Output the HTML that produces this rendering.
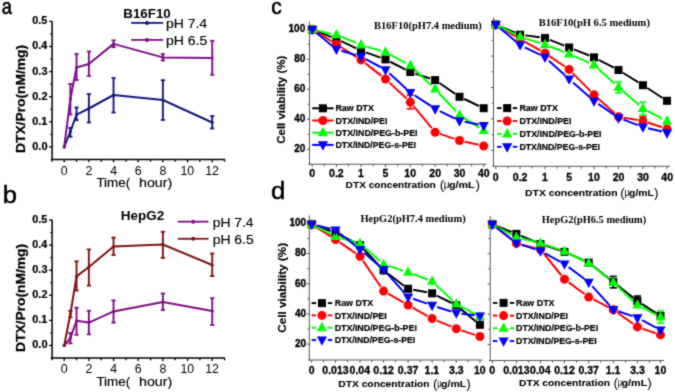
<!DOCTYPE html>
<html><head><meta charset="utf-8"><style>
html,body{margin:0;padding:0;background:#fff;}
svg{display:block;}
</style></head><body>
<svg width="675" height="392" viewBox="0 0 675 392">
<defs><filter id="soft" filterUnits="userSpaceOnUse" x="0" y="0" width="675" height="392" color-interpolation-filters="sRGB"><feConvolveMatrix order="3" kernelMatrix="1 2 1 2 14 2 1 2 1" divisor="26" edgeMode="duplicate"/></filter></defs>
<g filter="url(#soft)">
<rect width="675" height="392" fill="#fff"/>
<text x="1.87" y="13.9" font-family='"Liberation Sans", sans-serif' font-weight="normal" font-size="21.5" textLength="10.15" lengthAdjust="spacingAndGlyphs" fill="#000" stroke="#000" stroke-width="0.6">a</text>
<text x="2.74" y="202.8" font-family='"Liberation Sans", sans-serif' font-weight="normal" font-size="23" textLength="14.21" lengthAdjust="spacingAndGlyphs" fill="#000" stroke="#000" stroke-width="0.5">b</text>
<text x="271.16" y="14.2" font-family='"Liberation Sans", sans-serif' font-weight="normal" font-size="21.5" textLength="10.46" lengthAdjust="spacingAndGlyphs" fill="#000" stroke="#000" stroke-width="0.6">c</text>
<text x="271.07" y="198.9" font-family='"Liberation Sans", sans-serif' font-weight="normal" font-size="23" textLength="14.34" lengthAdjust="spacingAndGlyphs" fill="#000" stroke="#000" stroke-width="0.5">d</text>
<line x1="52.1" y1="21.2" x2="52.1" y2="160.15" stroke="#000" stroke-width="1.5"/>
<line x1="50.9" y1="159.45" x2="225.06" y2="159.45" stroke="#000" stroke-width="1.5"/>
<line x1="49.1" y1="146.9" x2="52.1" y2="146.9" stroke="#000" stroke-width="1.3"/>
<line x1="49.1" y1="121.8" x2="52.1" y2="121.8" stroke="#000" stroke-width="1.3"/>
<line x1="49.1" y1="96.7" x2="52.1" y2="96.7" stroke="#000" stroke-width="1.3"/>
<line x1="49.1" y1="71.6" x2="52.1" y2="71.6" stroke="#000" stroke-width="1.3"/>
<line x1="49.1" y1="46.5" x2="52.1" y2="46.5" stroke="#000" stroke-width="1.3"/>
<line x1="49.1" y1="21.4" x2="52.1" y2="21.4" stroke="#000" stroke-width="1.3"/>
<line x1="50.3" y1="134.35" x2="52.1" y2="134.35" stroke="#000" stroke-width="1.2"/>
<line x1="50.3" y1="109.25" x2="52.1" y2="109.25" stroke="#000" stroke-width="1.2"/>
<line x1="50.3" y1="84.15" x2="52.1" y2="84.15" stroke="#000" stroke-width="1.2"/>
<line x1="50.3" y1="59.05" x2="52.1" y2="59.05" stroke="#000" stroke-width="1.2"/>
<line x1="50.3" y1="33.95" x2="52.1" y2="33.95" stroke="#000" stroke-width="1.2"/>
<text x="32.26" y="149.8" font-family='"Liberation Sans", sans-serif' font-weight="bold" font-size="10" textLength="15.28" lengthAdjust="spacingAndGlyphs" fill="#000" stroke="#000" stroke-width="0.2">0.0</text>
<text x="32.27" y="124.7" font-family='"Liberation Sans", sans-serif' font-weight="bold" font-size="10" textLength="15.11" lengthAdjust="spacingAndGlyphs" fill="#000" stroke="#000" stroke-width="0.2">0.1</text>
<text x="32.26" y="99.6" font-family='"Liberation Sans", sans-serif' font-weight="bold" font-size="10" textLength="15.28" lengthAdjust="spacingAndGlyphs" fill="#000" stroke="#000" stroke-width="0.2">0.2</text>
<text x="32.26" y="74.5" font-family='"Liberation Sans", sans-serif' font-weight="bold" font-size="10" textLength="15.22" lengthAdjust="spacingAndGlyphs" fill="#000" stroke="#000" stroke-width="0.2">0.3</text>
<text x="32.27" y="49.4" font-family='"Liberation Sans", sans-serif' font-weight="bold" font-size="10" textLength="14.88" lengthAdjust="spacingAndGlyphs" fill="#000" stroke="#000" stroke-width="0.2">0.4</text>
<text x="32.27" y="24.3" font-family='"Liberation Sans", sans-serif' font-weight="bold" font-size="10" textLength="15.11" lengthAdjust="spacingAndGlyphs" fill="#000" stroke="#000" stroke-width="0.2">0.5</text>
<line x1="51.87" y1="159.45" x2="51.87" y2="161.75" stroke="#000" stroke-width="1.3"/>
<line x1="64.2" y1="159.45" x2="64.2" y2="162.35" stroke="#000" stroke-width="1.3"/>
<line x1="76.53" y1="159.45" x2="76.53" y2="161.75" stroke="#000" stroke-width="1.3"/>
<line x1="88.87" y1="159.45" x2="88.87" y2="162.35" stroke="#000" stroke-width="1.3"/>
<line x1="101.21" y1="159.45" x2="101.21" y2="161.75" stroke="#000" stroke-width="1.3"/>
<line x1="113.54" y1="159.45" x2="113.54" y2="162.35" stroke="#000" stroke-width="1.3"/>
<line x1="125.88" y1="159.45" x2="125.88" y2="161.75" stroke="#000" stroke-width="1.3"/>
<line x1="138.21" y1="159.45" x2="138.21" y2="162.35" stroke="#000" stroke-width="1.3"/>
<line x1="150.55" y1="159.45" x2="150.55" y2="161.75" stroke="#000" stroke-width="1.3"/>
<line x1="162.88" y1="159.45" x2="162.88" y2="162.35" stroke="#000" stroke-width="1.3"/>
<line x1="175.22" y1="159.45" x2="175.22" y2="161.75" stroke="#000" stroke-width="1.3"/>
<line x1="187.55" y1="159.45" x2="187.55" y2="162.35" stroke="#000" stroke-width="1.3"/>
<line x1="199.88" y1="159.45" x2="199.88" y2="161.75" stroke="#000" stroke-width="1.3"/>
<line x1="212.22" y1="159.45" x2="212.22" y2="162.35" stroke="#000" stroke-width="1.3"/>
<line x1="224.56" y1="159.45" x2="224.56" y2="161.75" stroke="#000" stroke-width="1.3"/>
<text x="60.73" y="174.65" font-family='"Liberation Sans", sans-serif' font-weight="normal" font-size="12.4" textLength="6.9" lengthAdjust="spacingAndGlyphs" fill="#000">0</text>
<text x="85.43" y="174.65" font-family='"Liberation Sans", sans-serif' font-weight="normal" font-size="12.4" textLength="6.9" lengthAdjust="spacingAndGlyphs" fill="#000">2</text>
<text x="110.16" y="174.65" font-family='"Liberation Sans", sans-serif' font-weight="normal" font-size="12.4" textLength="6.9" lengthAdjust="spacingAndGlyphs" fill="#000">4</text>
<text x="134.71" y="174.65" font-family='"Liberation Sans", sans-serif' font-weight="normal" font-size="12.4" textLength="6.9" lengthAdjust="spacingAndGlyphs" fill="#000">6</text>
<text x="159.41" y="174.65" font-family='"Liberation Sans", sans-serif' font-weight="normal" font-size="12.4" textLength="6.9" lengthAdjust="spacingAndGlyphs" fill="#000">8</text>
<text x="180.42" y="174.65" font-family='"Liberation Sans", sans-serif' font-weight="normal" font-size="12.4" textLength="13.79" lengthAdjust="spacingAndGlyphs" fill="#000">10</text>
<text x="205.18" y="174.65" font-family='"Liberation Sans", sans-serif' font-weight="normal" font-size="12.4" textLength="13.79" lengthAdjust="spacingAndGlyphs" fill="#000">12</text>
<text x="96.43" y="187.4" font-family='"Liberation Sans", sans-serif' font-weight="normal" font-size="13.3" textLength="33.68" lengthAdjust="spacingAndGlyphs" fill="#000" stroke="#000" stroke-width="0.15">Time(</text>
<text x="139" y="187.4" font-family='"Liberation Sans", sans-serif' font-weight="normal" font-size="13.3" textLength="33.22" lengthAdjust="spacingAndGlyphs" fill="#000" stroke="#000" stroke-width="0.15">hour)</text>
<text transform="rotate(-90)" x="-153" y="24.6" font-family='"Liberation Sans", sans-serif' font-weight="bold" font-size="13.4" textLength="108.16" lengthAdjust="spacingAndGlyphs" fill="#000" stroke="#000" stroke-width="0.25">DTX/Pro(nM/mg)</text>
<text x="123.33" y="17.9" font-family='"Liberation Sans", sans-serif' font-weight="bold" font-size="12.5" textLength="47.44" lengthAdjust="spacingAndGlyphs" fill="#000">B16F10</text>
<line x1="131.1" y1="22.9" x2="163" y2="22.9" stroke="#16167f" stroke-width="1.8"/>
<circle cx="147.05" cy="22.9" r="2.0" fill="#16167f"/>
<text x="165.99" y="28.1" font-family='"Liberation Sans", sans-serif' font-weight="normal" font-size="12.8" textLength="41.15" lengthAdjust="spacingAndGlyphs" fill="#000" stroke="#000" stroke-width="0.15">pH 7.4</text>
<line x1="131.1" y1="39.9" x2="163" y2="39.9" stroke="#7e0e88" stroke-width="1.8"/>
<circle cx="147.05" cy="39.9" r="2.0" fill="#7e0e88"/>
<text x="165.99" y="45.2" font-family='"Liberation Sans", sans-serif' font-weight="normal" font-size="12.8" textLength="41.29" lengthAdjust="spacingAndGlyphs" fill="#000" stroke="#000" stroke-width="0.15">pH 6.5</text>
<polyline points="64.2,146.9 70.37,131.5 76.53,114.6 88.87,108.5 113.54,95 162.88,100 212.22,122.5" fill="none" stroke="#16167f" stroke-width="2" stroke-linejoin="round"/>
<circle cx="64.2" cy="146.9" r="1.5" fill="#16167f"/>
<line x1="70.37" y1="127.9" x2="70.37" y2="136.8" stroke="#16167f" stroke-width="1.9"/>
<line x1="68.27" y1="127.9" x2="72.47" y2="127.9" stroke="#16167f" stroke-width="1.8"/>
<line x1="68.27" y1="136.8" x2="72.47" y2="136.8" stroke="#16167f" stroke-width="1.8"/>
<circle cx="70.37" cy="131.5" r="1.5" fill="#16167f"/>
<line x1="76.53" y1="107.5" x2="76.53" y2="120.2" stroke="#16167f" stroke-width="1.9"/>
<line x1="74.44" y1="107.5" x2="78.63" y2="107.5" stroke="#16167f" stroke-width="1.8"/>
<line x1="74.44" y1="120.2" x2="78.63" y2="120.2" stroke="#16167f" stroke-width="1.8"/>
<circle cx="76.53" cy="114.6" r="1.5" fill="#16167f"/>
<line x1="88.87" y1="94" x2="88.87" y2="122.5" stroke="#16167f" stroke-width="1.9"/>
<line x1="86.77" y1="94" x2="90.97" y2="94" stroke="#16167f" stroke-width="1.8"/>
<line x1="86.77" y1="122.5" x2="90.97" y2="122.5" stroke="#16167f" stroke-width="1.8"/>
<circle cx="88.87" cy="108.5" r="1.5" fill="#16167f"/>
<line x1="113.54" y1="78" x2="113.54" y2="112.5" stroke="#16167f" stroke-width="1.9"/>
<line x1="111.44" y1="78" x2="115.64" y2="78" stroke="#16167f" stroke-width="1.8"/>
<line x1="111.44" y1="112.5" x2="115.64" y2="112.5" stroke="#16167f" stroke-width="1.8"/>
<circle cx="113.54" cy="95" r="1.5" fill="#16167f"/>
<line x1="162.88" y1="80.2" x2="162.88" y2="120" stroke="#16167f" stroke-width="1.9"/>
<line x1="160.78" y1="80.2" x2="164.98" y2="80.2" stroke="#16167f" stroke-width="1.8"/>
<line x1="160.78" y1="120" x2="164.98" y2="120" stroke="#16167f" stroke-width="1.8"/>
<circle cx="162.88" cy="100" r="1.5" fill="#16167f"/>
<line x1="212.22" y1="116" x2="212.22" y2="128.5" stroke="#16167f" stroke-width="1.9"/>
<line x1="210.12" y1="116" x2="214.32" y2="116" stroke="#16167f" stroke-width="1.8"/>
<line x1="210.12" y1="128.5" x2="214.32" y2="128.5" stroke="#16167f" stroke-width="1.8"/>
<circle cx="212.22" cy="122.5" r="1.5" fill="#16167f"/>
<polyline points="64.2,146.9 70.37,99 76.53,67.5 88.87,64 113.54,43.9 162.88,57.4 212.22,57.9" fill="none" stroke="#7e0e88" stroke-width="2" stroke-linejoin="round"/>
<circle cx="64.2" cy="146.9" r="1.5" fill="#7e0e88"/>
<line x1="70.37" y1="84" x2="70.37" y2="114.6" stroke="#7e0e88" stroke-width="1.9"/>
<line x1="68.27" y1="84" x2="72.47" y2="84" stroke="#7e0e88" stroke-width="1.8"/>
<line x1="68.27" y1="114.6" x2="72.47" y2="114.6" stroke="#7e0e88" stroke-width="1.8"/>
<circle cx="70.37" cy="99" r="1.5" fill="#7e0e88"/>
<line x1="76.53" y1="54" x2="76.53" y2="80" stroke="#7e0e88" stroke-width="1.9"/>
<line x1="74.44" y1="54" x2="78.63" y2="54" stroke="#7e0e88" stroke-width="1.8"/>
<line x1="74.44" y1="80" x2="78.63" y2="80" stroke="#7e0e88" stroke-width="1.8"/>
<circle cx="76.53" cy="67.5" r="1.5" fill="#7e0e88"/>
<line x1="88.87" y1="51.5" x2="88.87" y2="76" stroke="#7e0e88" stroke-width="1.9"/>
<line x1="86.77" y1="51.5" x2="90.97" y2="51.5" stroke="#7e0e88" stroke-width="1.8"/>
<line x1="86.77" y1="76" x2="90.97" y2="76" stroke="#7e0e88" stroke-width="1.8"/>
<circle cx="88.87" cy="64" r="1.5" fill="#7e0e88"/>
<line x1="113.54" y1="40.3" x2="113.54" y2="47.2" stroke="#7e0e88" stroke-width="1.9"/>
<line x1="111.44" y1="40.3" x2="115.64" y2="40.3" stroke="#7e0e88" stroke-width="1.8"/>
<line x1="111.44" y1="47.2" x2="115.64" y2="47.2" stroke="#7e0e88" stroke-width="1.8"/>
<circle cx="113.54" cy="43.9" r="1.5" fill="#7e0e88"/>
<line x1="162.88" y1="54.1" x2="162.88" y2="60.5" stroke="#7e0e88" stroke-width="1.9"/>
<line x1="160.78" y1="54.1" x2="164.98" y2="54.1" stroke="#7e0e88" stroke-width="1.8"/>
<line x1="160.78" y1="60.5" x2="164.98" y2="60.5" stroke="#7e0e88" stroke-width="1.8"/>
<circle cx="162.88" cy="57.4" r="1.5" fill="#7e0e88"/>
<line x1="212.22" y1="40.8" x2="212.22" y2="74.8" stroke="#7e0e88" stroke-width="1.9"/>
<line x1="210.12" y1="40.8" x2="214.32" y2="40.8" stroke="#7e0e88" stroke-width="1.8"/>
<line x1="210.12" y1="74.8" x2="214.32" y2="74.8" stroke="#7e0e88" stroke-width="1.8"/>
<circle cx="212.22" cy="57.9" r="1.5" fill="#7e0e88"/>
<line x1="52.1" y1="219.8" x2="52.1" y2="358.75" stroke="#000" stroke-width="1.5"/>
<line x1="50.9" y1="358.05" x2="225.06" y2="358.05" stroke="#000" stroke-width="1.5"/>
<line x1="49.1" y1="345.5" x2="52.1" y2="345.5" stroke="#000" stroke-width="1.3"/>
<line x1="49.1" y1="320.4" x2="52.1" y2="320.4" stroke="#000" stroke-width="1.3"/>
<line x1="49.1" y1="295.3" x2="52.1" y2="295.3" stroke="#000" stroke-width="1.3"/>
<line x1="49.1" y1="270.2" x2="52.1" y2="270.2" stroke="#000" stroke-width="1.3"/>
<line x1="49.1" y1="245.1" x2="52.1" y2="245.1" stroke="#000" stroke-width="1.3"/>
<line x1="49.1" y1="220" x2="52.1" y2="220" stroke="#000" stroke-width="1.3"/>
<line x1="50.3" y1="332.95" x2="52.1" y2="332.95" stroke="#000" stroke-width="1.2"/>
<line x1="50.3" y1="307.85" x2="52.1" y2="307.85" stroke="#000" stroke-width="1.2"/>
<line x1="50.3" y1="282.75" x2="52.1" y2="282.75" stroke="#000" stroke-width="1.2"/>
<line x1="50.3" y1="257.65" x2="52.1" y2="257.65" stroke="#000" stroke-width="1.2"/>
<line x1="50.3" y1="232.55" x2="52.1" y2="232.55" stroke="#000" stroke-width="1.2"/>
<text x="32.26" y="348.4" font-family='"Liberation Sans", sans-serif' font-weight="bold" font-size="10" textLength="15.28" lengthAdjust="spacingAndGlyphs" fill="#000" stroke="#000" stroke-width="0.2">0.0</text>
<text x="32.27" y="323.3" font-family='"Liberation Sans", sans-serif' font-weight="bold" font-size="10" textLength="15.11" lengthAdjust="spacingAndGlyphs" fill="#000" stroke="#000" stroke-width="0.2">0.1</text>
<text x="32.26" y="298.2" font-family='"Liberation Sans", sans-serif' font-weight="bold" font-size="10" textLength="15.28" lengthAdjust="spacingAndGlyphs" fill="#000" stroke="#000" stroke-width="0.2">0.2</text>
<text x="32.26" y="273.1" font-family='"Liberation Sans", sans-serif' font-weight="bold" font-size="10" textLength="15.22" lengthAdjust="spacingAndGlyphs" fill="#000" stroke="#000" stroke-width="0.2">0.3</text>
<text x="32.27" y="248" font-family='"Liberation Sans", sans-serif' font-weight="bold" font-size="10" textLength="14.88" lengthAdjust="spacingAndGlyphs" fill="#000" stroke="#000" stroke-width="0.2">0.4</text>
<text x="32.27" y="222.9" font-family='"Liberation Sans", sans-serif' font-weight="bold" font-size="10" textLength="15.11" lengthAdjust="spacingAndGlyphs" fill="#000" stroke="#000" stroke-width="0.2">0.5</text>
<line x1="51.87" y1="358.05" x2="51.87" y2="360.35" stroke="#000" stroke-width="1.3"/>
<line x1="64.2" y1="358.05" x2="64.2" y2="360.95" stroke="#000" stroke-width="1.3"/>
<line x1="76.53" y1="358.05" x2="76.53" y2="360.35" stroke="#000" stroke-width="1.3"/>
<line x1="88.87" y1="358.05" x2="88.87" y2="360.95" stroke="#000" stroke-width="1.3"/>
<line x1="101.21" y1="358.05" x2="101.21" y2="360.35" stroke="#000" stroke-width="1.3"/>
<line x1="113.54" y1="358.05" x2="113.54" y2="360.95" stroke="#000" stroke-width="1.3"/>
<line x1="125.88" y1="358.05" x2="125.88" y2="360.35" stroke="#000" stroke-width="1.3"/>
<line x1="138.21" y1="358.05" x2="138.21" y2="360.95" stroke="#000" stroke-width="1.3"/>
<line x1="150.55" y1="358.05" x2="150.55" y2="360.35" stroke="#000" stroke-width="1.3"/>
<line x1="162.88" y1="358.05" x2="162.88" y2="360.95" stroke="#000" stroke-width="1.3"/>
<line x1="175.22" y1="358.05" x2="175.22" y2="360.35" stroke="#000" stroke-width="1.3"/>
<line x1="187.55" y1="358.05" x2="187.55" y2="360.95" stroke="#000" stroke-width="1.3"/>
<line x1="199.88" y1="358.05" x2="199.88" y2="360.35" stroke="#000" stroke-width="1.3"/>
<line x1="212.22" y1="358.05" x2="212.22" y2="360.95" stroke="#000" stroke-width="1.3"/>
<line x1="224.56" y1="358.05" x2="224.56" y2="360.35" stroke="#000" stroke-width="1.3"/>
<text x="60.73" y="373.25" font-family='"Liberation Sans", sans-serif' font-weight="normal" font-size="12.4" textLength="6.9" lengthAdjust="spacingAndGlyphs" fill="#000">0</text>
<text x="85.43" y="373.25" font-family='"Liberation Sans", sans-serif' font-weight="normal" font-size="12.4" textLength="6.9" lengthAdjust="spacingAndGlyphs" fill="#000">2</text>
<text x="110.16" y="373.25" font-family='"Liberation Sans", sans-serif' font-weight="normal" font-size="12.4" textLength="6.9" lengthAdjust="spacingAndGlyphs" fill="#000">4</text>
<text x="134.71" y="373.25" font-family='"Liberation Sans", sans-serif' font-weight="normal" font-size="12.4" textLength="6.9" lengthAdjust="spacingAndGlyphs" fill="#000">6</text>
<text x="159.41" y="373.25" font-family='"Liberation Sans", sans-serif' font-weight="normal" font-size="12.4" textLength="6.9" lengthAdjust="spacingAndGlyphs" fill="#000">8</text>
<text x="180.42" y="373.25" font-family='"Liberation Sans", sans-serif' font-weight="normal" font-size="12.4" textLength="13.79" lengthAdjust="spacingAndGlyphs" fill="#000">10</text>
<text x="205.18" y="373.25" font-family='"Liberation Sans", sans-serif' font-weight="normal" font-size="12.4" textLength="13.79" lengthAdjust="spacingAndGlyphs" fill="#000">12</text>
<text x="96.43" y="386.4" font-family='"Liberation Sans", sans-serif' font-weight="normal" font-size="13.3" textLength="33.68" lengthAdjust="spacingAndGlyphs" fill="#000" stroke="#000" stroke-width="0.15">Time(</text>
<text x="139" y="386.4" font-family='"Liberation Sans", sans-serif' font-weight="normal" font-size="13.3" textLength="33.22" lengthAdjust="spacingAndGlyphs" fill="#000" stroke="#000" stroke-width="0.15">hour)</text>
<text transform="rotate(-90)" x="-352" y="24.6" font-family='"Liberation Sans", sans-serif' font-weight="bold" font-size="13.4" textLength="108.16" lengthAdjust="spacingAndGlyphs" fill="#000" stroke="#000" stroke-width="0.25">DTX/Pro(nM/mg)</text>
<text x="120.82" y="220.4" font-family='"Liberation Sans", sans-serif' font-weight="bold" font-size="12.5" textLength="43.56" lengthAdjust="spacingAndGlyphs" fill="#000">HepG2</text>
<line x1="177.8" y1="221.7" x2="208.5" y2="221.7" stroke="#7e0e88" stroke-width="1.8"/>
<circle cx="193.15" cy="221.7" r="2.0" fill="#7e0e88"/>
<text x="212.7" y="226.8" font-family='"Liberation Sans", sans-serif' font-weight="normal" font-size="12.8" textLength="40.84" lengthAdjust="spacingAndGlyphs" fill="#000" stroke="#000" stroke-width="0.15">pH 7.4</text>
<line x1="177.8" y1="238.8" x2="208.5" y2="238.8" stroke="#801212" stroke-width="1.8"/>
<circle cx="193.15" cy="238.8" r="2.0" fill="#801212"/>
<text x="212.7" y="243.9" font-family='"Liberation Sans", sans-serif' font-weight="normal" font-size="12.8" textLength="40.98" lengthAdjust="spacingAndGlyphs" fill="#000" stroke="#000" stroke-width="0.15">pH 6.5</text>
<polyline points="64.2,345.5 70.37,338.2 76.53,320.7 88.87,322.6 113.54,311.4 162.88,301.9 212.22,311.1" fill="none" stroke="#7e0e88" stroke-width="2" stroke-linejoin="round"/>
<circle cx="64.2" cy="345.5" r="1.5" fill="#7e0e88"/>
<line x1="70.37" y1="333" x2="70.37" y2="343.4" stroke="#7e0e88" stroke-width="1.9"/>
<line x1="68.27" y1="333" x2="72.47" y2="333" stroke="#7e0e88" stroke-width="1.8"/>
<line x1="68.27" y1="343.4" x2="72.47" y2="343.4" stroke="#7e0e88" stroke-width="1.8"/>
<circle cx="70.37" cy="338.2" r="1.5" fill="#7e0e88"/>
<line x1="76.53" y1="307.7" x2="76.53" y2="334.8" stroke="#7e0e88" stroke-width="1.9"/>
<line x1="74.44" y1="307.7" x2="78.63" y2="307.7" stroke="#7e0e88" stroke-width="1.8"/>
<line x1="74.44" y1="334.8" x2="78.63" y2="334.8" stroke="#7e0e88" stroke-width="1.8"/>
<circle cx="76.53" cy="320.7" r="1.5" fill="#7e0e88"/>
<line x1="88.87" y1="310.8" x2="88.87" y2="334.3" stroke="#7e0e88" stroke-width="1.9"/>
<line x1="86.77" y1="310.8" x2="90.97" y2="310.8" stroke="#7e0e88" stroke-width="1.8"/>
<line x1="86.77" y1="334.3" x2="90.97" y2="334.3" stroke="#7e0e88" stroke-width="1.8"/>
<circle cx="88.87" cy="322.6" r="1.5" fill="#7e0e88"/>
<line x1="113.54" y1="300.4" x2="113.54" y2="322.6" stroke="#7e0e88" stroke-width="1.9"/>
<line x1="111.44" y1="300.4" x2="115.64" y2="300.4" stroke="#7e0e88" stroke-width="1.8"/>
<line x1="111.44" y1="322.6" x2="115.64" y2="322.6" stroke="#7e0e88" stroke-width="1.8"/>
<circle cx="113.54" cy="311.4" r="1.5" fill="#7e0e88"/>
<line x1="162.88" y1="293.5" x2="162.88" y2="310.1" stroke="#7e0e88" stroke-width="1.9"/>
<line x1="160.78" y1="293.5" x2="164.98" y2="293.5" stroke="#7e0e88" stroke-width="1.8"/>
<line x1="160.78" y1="310.1" x2="164.98" y2="310.1" stroke="#7e0e88" stroke-width="1.8"/>
<circle cx="162.88" cy="301.9" r="1.5" fill="#7e0e88"/>
<line x1="212.22" y1="298.2" x2="212.22" y2="325" stroke="#7e0e88" stroke-width="1.9"/>
<line x1="210.12" y1="298.2" x2="214.32" y2="298.2" stroke="#7e0e88" stroke-width="1.8"/>
<line x1="210.12" y1="325" x2="214.32" y2="325" stroke="#7e0e88" stroke-width="1.8"/>
<circle cx="212.22" cy="311.1" r="1.5" fill="#7e0e88"/>
<polyline points="64.2,345.5 70.37,314 76.53,276.4 88.87,267 113.54,246.5 162.88,244.5 212.22,265" fill="none" stroke="#801212" stroke-width="2" stroke-linejoin="round"/>
<circle cx="64.2" cy="345.5" r="1.5" fill="#801212"/>
<line x1="70.37" y1="310.8" x2="70.37" y2="317.3" stroke="#801212" stroke-width="1.9"/>
<line x1="68.27" y1="310.8" x2="72.47" y2="310.8" stroke="#801212" stroke-width="1.8"/>
<line x1="68.27" y1="317.3" x2="72.47" y2="317.3" stroke="#801212" stroke-width="1.8"/>
<circle cx="70.37" cy="314" r="1.5" fill="#801212"/>
<line x1="76.53" y1="261.3" x2="76.53" y2="290.5" stroke="#801212" stroke-width="1.9"/>
<line x1="74.44" y1="261.3" x2="78.63" y2="261.3" stroke="#801212" stroke-width="1.8"/>
<line x1="74.44" y1="290.5" x2="78.63" y2="290.5" stroke="#801212" stroke-width="1.8"/>
<circle cx="76.53" cy="276.4" r="1.5" fill="#801212"/>
<line x1="88.87" y1="249.4" x2="88.87" y2="285.6" stroke="#801212" stroke-width="1.9"/>
<line x1="86.77" y1="249.4" x2="90.97" y2="249.4" stroke="#801212" stroke-width="1.8"/>
<line x1="86.77" y1="285.6" x2="90.97" y2="285.6" stroke="#801212" stroke-width="1.8"/>
<circle cx="88.87" cy="267" r="1.5" fill="#801212"/>
<line x1="113.54" y1="237.6" x2="113.54" y2="255" stroke="#801212" stroke-width="1.9"/>
<line x1="111.44" y1="237.6" x2="115.64" y2="237.6" stroke="#801212" stroke-width="1.8"/>
<line x1="111.44" y1="255" x2="115.64" y2="255" stroke="#801212" stroke-width="1.8"/>
<circle cx="113.54" cy="246.5" r="1.5" fill="#801212"/>
<line x1="162.88" y1="231.8" x2="162.88" y2="258" stroke="#801212" stroke-width="1.9"/>
<line x1="160.78" y1="231.8" x2="164.98" y2="231.8" stroke="#801212" stroke-width="1.8"/>
<line x1="160.78" y1="258" x2="164.98" y2="258" stroke="#801212" stroke-width="1.8"/>
<circle cx="162.88" cy="244.5" r="1.5" fill="#801212"/>
<line x1="212.22" y1="253.5" x2="212.22" y2="276.1" stroke="#801212" stroke-width="1.9"/>
<line x1="210.12" y1="253.5" x2="214.32" y2="253.5" stroke="#801212" stroke-width="1.8"/>
<line x1="210.12" y1="276.1" x2="214.32" y2="276.1" stroke="#801212" stroke-width="1.8"/>
<circle cx="212.22" cy="265" r="1.5" fill="#801212"/>
<line x1="309.5" y1="21.4" x2="309.5" y2="164.8" stroke="#555" stroke-width="1"/>
<line x1="308.3" y1="164.2" x2="486.4" y2="164.2" stroke="#555" stroke-width="1.1"/>
<line x1="306.9" y1="29.3" x2="309.5" y2="29.3" stroke="#555" stroke-width="1"/>
<line x1="307.7" y1="44.3" x2="309.5" y2="44.3" stroke="#555" stroke-width="1"/>
<line x1="306.9" y1="59.3" x2="309.5" y2="59.3" stroke="#555" stroke-width="1"/>
<line x1="307.7" y1="74.3" x2="309.5" y2="74.3" stroke="#555" stroke-width="1"/>
<line x1="306.9" y1="89.3" x2="309.5" y2="89.3" stroke="#555" stroke-width="1"/>
<line x1="307.7" y1="104.3" x2="309.5" y2="104.3" stroke="#555" stroke-width="1"/>
<line x1="306.9" y1="119.3" x2="309.5" y2="119.3" stroke="#555" stroke-width="1"/>
<line x1="307.7" y1="134.3" x2="309.5" y2="134.3" stroke="#555" stroke-width="1"/>
<line x1="306.9" y1="149.3" x2="309.5" y2="149.3" stroke="#555" stroke-width="1"/>
<line x1="312.2" y1="164.2" x2="312.2" y2="167" stroke="#555" stroke-width="1"/>
<line x1="324.3" y1="164.2" x2="324.3" y2="166.4" stroke="#555" stroke-width="1"/>
<line x1="336.4" y1="164.2" x2="336.4" y2="167" stroke="#555" stroke-width="1"/>
<line x1="348.5" y1="164.2" x2="348.5" y2="166.4" stroke="#555" stroke-width="1"/>
<line x1="361" y1="164.2" x2="361" y2="167" stroke="#555" stroke-width="1"/>
<line x1="373.1" y1="164.2" x2="373.1" y2="166.4" stroke="#555" stroke-width="1"/>
<line x1="385.5" y1="164.2" x2="385.5" y2="167" stroke="#555" stroke-width="1"/>
<line x1="397.6" y1="164.2" x2="397.6" y2="166.4" stroke="#555" stroke-width="1"/>
<line x1="410.3" y1="164.2" x2="410.3" y2="167" stroke="#555" stroke-width="1"/>
<line x1="422.4" y1="164.2" x2="422.4" y2="166.4" stroke="#555" stroke-width="1"/>
<line x1="435.1" y1="164.2" x2="435.1" y2="167" stroke="#555" stroke-width="1"/>
<line x1="447.2" y1="164.2" x2="447.2" y2="166.4" stroke="#555" stroke-width="1"/>
<line x1="459.5" y1="164.2" x2="459.5" y2="167" stroke="#555" stroke-width="1"/>
<line x1="471.6" y1="164.2" x2="471.6" y2="166.4" stroke="#555" stroke-width="1"/>
<line x1="483.7" y1="164.2" x2="483.7" y2="167" stroke="#555" stroke-width="1"/>
<text x="309.29" y="177.2" font-family='"Liberation Sans", sans-serif' font-weight="bold" font-size="10" textLength="5.84" lengthAdjust="spacingAndGlyphs" fill="#000" stroke="#000" stroke-width="0.3">0</text>
<text x="329.1" y="177.2" font-family='"Liberation Sans", sans-serif' font-weight="bold" font-size="10" textLength="14.6" lengthAdjust="spacingAndGlyphs" fill="#000" stroke="#000" stroke-width="0.3">0.2</text>
<text x="357.9" y="177.2" font-family='"Liberation Sans", sans-serif' font-weight="bold" font-size="10" textLength="5.84" lengthAdjust="spacingAndGlyphs" fill="#000" stroke="#000" stroke-width="0.3">1</text>
<text x="382.56" y="177.2" font-family='"Liberation Sans", sans-serif' font-weight="bold" font-size="10" textLength="5.84" lengthAdjust="spacingAndGlyphs" fill="#000" stroke="#000" stroke-width="0.3">5</text>
<text x="404.37" y="177.2" font-family='"Liberation Sans", sans-serif' font-weight="bold" font-size="10" textLength="11.68" lengthAdjust="spacingAndGlyphs" fill="#000" stroke="#000" stroke-width="0.3">10</text>
<text x="429.3" y="177.2" font-family='"Liberation Sans", sans-serif' font-weight="bold" font-size="10" textLength="11.68" lengthAdjust="spacingAndGlyphs" fill="#000" stroke="#000" stroke-width="0.3">20</text>
<text x="453.75" y="177.2" font-family='"Liberation Sans", sans-serif' font-weight="bold" font-size="10" textLength="11.68" lengthAdjust="spacingAndGlyphs" fill="#000" stroke="#000" stroke-width="0.3">30</text>
<text x="478" y="177.2" font-family='"Liberation Sans", sans-serif' font-weight="bold" font-size="10" textLength="11.68" lengthAdjust="spacingAndGlyphs" fill="#000" stroke="#000" stroke-width="0.3">40</text>
<text x="288.59" y="32.2" font-family='"Liberation Sans", sans-serif' font-weight="bold" font-size="10" textLength="16.64" lengthAdjust="spacingAndGlyphs" fill="#000" stroke="#000" stroke-width="0.35">100</text>
<text x="294.13" y="62.2" font-family='"Liberation Sans", sans-serif' font-weight="bold" font-size="10" textLength="11.1" lengthAdjust="spacingAndGlyphs" fill="#000" stroke="#000" stroke-width="0.35">80</text>
<text x="294.13" y="92.2" font-family='"Liberation Sans", sans-serif' font-weight="bold" font-size="10" textLength="11.1" lengthAdjust="spacingAndGlyphs" fill="#000" stroke="#000" stroke-width="0.35">60</text>
<text x="294.13" y="122.2" font-family='"Liberation Sans", sans-serif' font-weight="bold" font-size="10" textLength="11.1" lengthAdjust="spacingAndGlyphs" fill="#000" stroke="#000" stroke-width="0.35">40</text>
<text x="294.13" y="152.2" font-family='"Liberation Sans", sans-serif' font-weight="bold" font-size="10" textLength="11.1" lengthAdjust="spacingAndGlyphs" fill="#000" stroke="#000" stroke-width="0.35">20</text>
<line x1="317.04" y1="31.4" x2="331.56" y2="37.1" stroke="#000000" stroke-width="2"/>
<line x1="341.1" y1="41.22" x2="356.3" y2="48.38" stroke="#000000" stroke-width="2"/>
<line x1="365.89" y1="52.36" x2="380.61" y2="57.64" stroke="#000000" stroke-width="2"/>
<line x1="390.14" y1="61.76" x2="405.66" y2="69.64" stroke="#000000" stroke-width="2"/>
<line x1="415.24" y1="73.61" x2="430.16" y2="78.49" stroke="#000000" stroke-width="2"/>
<line x1="439.39" y1="83.04" x2="455.21" y2="93.86" stroke="#000000" stroke-width="2"/>
<line x1="464.2" y1="99.02" x2="479" y2="105.98" stroke="#000000" stroke-width="2"/>
<line x1="316.64" y1="32.2" x2="331.96" y2="41.5" stroke="#ff0000" stroke-width="2"/>
<line x1="340.78" y1="47" x2="356.62" y2="57.1" stroke="#ff0000" stroke-width="2"/>
<line x1="365.09" y1="63.11" x2="381.41" y2="75.89" stroke="#ff0000" stroke-width="2"/>
<line x1="389.31" y1="82.64" x2="406.49" y2="98.56" stroke="#ff0000" stroke-width="2"/>
<line x1="413.61" y1="106.11" x2="431.79" y2="128.19" stroke="#ff0000" stroke-width="2"/>
<line x1="440.02" y1="133.87" x2="454.58" y2="138.83" stroke="#ff0000" stroke-width="2"/>
<line x1="464.57" y1="141.65" x2="478.63" y2="144.85" stroke="#ff0000" stroke-width="2"/>
<line x1="317.28" y1="30.61" x2="331.32" y2="33.69" stroke="#00ff00" stroke-width="2"/>
<line x1="341.21" y1="36.77" x2="356.19" y2="42.93" stroke="#00ff00" stroke-width="2"/>
<line x1="365.98" y1="46.38" x2="380.52" y2="50.72" stroke="#00ff00" stroke-width="2"/>
<line x1="390.08" y1="54.66" x2="405.72" y2="63.04" stroke="#00ff00" stroke-width="2"/>
<line x1="414.07" y1="69.08" x2="431.33" y2="85.42" stroke="#00ff00" stroke-width="2"/>
<line x1="438.66" y1="92.79" x2="455.94" y2="111.21" stroke="#00ff00" stroke-width="2"/>
<line x1="463.88" y1="117.8" x2="479.32" y2="127.7" stroke="#00ff00" stroke-width="2"/>
<line x1="316.23" y1="32.78" x2="332.37" y2="45.92" stroke="#0000ff" stroke-width="2"/>
<line x1="341.38" y1="50.7" x2="356.02" y2="55.1" stroke="#0000ff" stroke-width="2"/>
<line x1="365.59" y1="59.05" x2="380.91" y2="67.25" stroke="#0000ff" stroke-width="2"/>
<line x1="389.33" y1="73.22" x2="406.47" y2="88.98" stroke="#0000ff" stroke-width="2"/>
<line x1="414.65" y1="95.36" x2="430.75" y2="105.94" stroke="#0000ff" stroke-width="2"/>
<line x1="439.77" y1="111.09" x2="454.83" y2="118.51" stroke="#0000ff" stroke-width="2"/>
<line x1="464.6" y1="121.79" x2="478.6" y2="124.51" stroke="#0000ff" stroke-width="2"/>
<line x1="410.3" y1="95.2" x2="410.3" y2="108.9" stroke="#ff0000" stroke-width="1.5"/>
<line x1="406.7" y1="95.2" x2="413.9" y2="95.2" stroke="#ff0000" stroke-width="1.6"/>
<line x1="406.7" y1="108.9" x2="413.9" y2="108.9" stroke="#ff0000" stroke-width="1.6"/>
<rect x="308.2" y="25.5" width="8" height="8" fill="#000000"/>
<rect x="332.4" y="35" width="8" height="8" fill="#000000"/>
<rect x="357" y="46.6" width="8" height="8" fill="#000000"/>
<rect x="381.5" y="55.4" width="8" height="8" fill="#000000"/>
<rect x="406.3" y="68" width="8" height="8" fill="#000000"/>
<rect x="431.1" y="76.1" width="8" height="8" fill="#000000"/>
<rect x="455.5" y="92.8" width="8" height="8" fill="#000000"/>
<rect x="479.7" y="104.2" width="8" height="8" fill="#000000"/>
<circle cx="312.2" cy="29.5" r="4.5" fill="#ff0000"/>
<circle cx="336.4" cy="44.2" r="4.5" fill="#ff0000"/>
<circle cx="361" cy="59.9" r="4.5" fill="#ff0000"/>
<circle cx="385.5" cy="79.1" r="4.5" fill="#ff0000"/>
<circle cx="410.3" cy="102.1" r="4.5" fill="#ff0000"/>
<circle cx="435.1" cy="132.2" r="4.5" fill="#ff0000"/>
<circle cx="459.5" cy="140.5" r="4.5" fill="#ff0000"/>
<circle cx="483.7" cy="146" r="4.5" fill="#ff0000"/>
<polygon points="307.1,33.07 317.3,33.07 312.2,23.67" fill="#00ff00"/>
<polygon points="331.3,38.37 341.5,38.37 336.4,28.97" fill="#00ff00"/>
<polygon points="355.9,48.47 366.1,48.47 361,39.07" fill="#00ff00"/>
<polygon points="380.4,55.77 390.6,55.77 385.5,46.37" fill="#00ff00"/>
<polygon points="405.2,69.07 415.4,69.07 410.3,59.67" fill="#00ff00"/>
<polygon points="430,92.57 440.2,92.57 435.1,83.17" fill="#00ff00"/>
<polygon points="454.4,118.57 464.6,118.57 459.5,109.17" fill="#00ff00"/>
<polygon points="478.6,134.07 488.8,134.07 483.7,124.67" fill="#00ff00"/>
<polygon points="307.1,25.93 317.3,25.93 312.2,35.33" fill="#0000ff"/>
<polygon points="331.3,45.63 341.5,45.63 336.4,55.03" fill="#0000ff"/>
<polygon points="355.9,53.03 366.1,53.03 361,62.43" fill="#0000ff"/>
<polygon points="380.4,66.13 390.6,66.13 385.5,75.53" fill="#0000ff"/>
<polygon points="405.2,88.93 415.4,88.93 410.3,98.33" fill="#0000ff"/>
<polygon points="430,105.23 440.2,105.23 435.1,114.63" fill="#0000ff"/>
<polygon points="454.4,117.23 464.6,117.23 459.5,126.63" fill="#0000ff"/>
<polygon points="478.6,121.93 488.8,121.93 483.7,131.33" fill="#0000ff"/>
<line x1="312.2" y1="108.3" x2="333.6" y2="108.3" stroke="#000000" stroke-width="2"/>
<rect x="318.9" y="104.3" width="8" height="8" fill="#000000"/>
<text x="335.42" y="111.4" font-family='"Liberation Sans", sans-serif' font-weight="bold" font-size="9.5" textLength="38.5" lengthAdjust="spacingAndGlyphs" fill="#000" stroke="#000" stroke-width="0.2">Raw DTX</text>
<line x1="312.2" y1="120.5" x2="333.6" y2="120.5" stroke="#ff0000" stroke-width="2"/>
<circle cx="322.9" cy="120.5" r="4.5" fill="#ff0000"/>
<text x="335.43" y="123.6" font-family='"Liberation Sans", sans-serif' font-weight="bold" font-size="9.5" textLength="51.99" lengthAdjust="spacingAndGlyphs" fill="#000" stroke="#000" stroke-width="0.2">DTX/IND/PEI</text>
<line x1="312.2" y1="132.7" x2="333.6" y2="132.7" stroke="#00ff00" stroke-width="2"/>
<polygon points="317.8,136.27 328,136.27 322.9,126.87" fill="#00ff00"/>
<text x="335.42" y="135.8" font-family='"Liberation Sans", sans-serif' font-weight="bold" font-size="9.5" textLength="82.18" lengthAdjust="spacingAndGlyphs" fill="#000" stroke="#000" stroke-width="0.2">DTX/IND/PEG-b-PEI</text>
<line x1="312.2" y1="144.9" x2="333.6" y2="144.9" stroke="#0000ff" stroke-width="2"/>
<polygon points="317.8,141.33 328,141.33 322.9,150.73" fill="#0000ff"/>
<text x="335.43" y="148" font-family='"Liberation Sans", sans-serif' font-weight="bold" font-size="9.5" textLength="80.57" lengthAdjust="spacingAndGlyphs" fill="#000" stroke="#000" stroke-width="0.2">DTX/IND/PEG-s-PEI</text>
<line x1="493.5" y1="17.4" x2="493.5" y2="166.9" stroke="#555" stroke-width="1"/>
<line x1="492.3" y1="166.3" x2="670" y2="166.3" stroke="#555" stroke-width="1.1"/>
<line x1="490.9" y1="24.7" x2="493.5" y2="24.7" stroke="#555" stroke-width="1"/>
<line x1="491.7" y1="40.4" x2="493.5" y2="40.4" stroke="#555" stroke-width="1"/>
<line x1="490.9" y1="56.1" x2="493.5" y2="56.1" stroke="#555" stroke-width="1"/>
<line x1="491.7" y1="71.8" x2="493.5" y2="71.8" stroke="#555" stroke-width="1"/>
<line x1="490.9" y1="87.5" x2="493.5" y2="87.5" stroke="#555" stroke-width="1"/>
<line x1="491.7" y1="103.2" x2="493.5" y2="103.2" stroke="#555" stroke-width="1"/>
<line x1="490.9" y1="118.9" x2="493.5" y2="118.9" stroke="#555" stroke-width="1"/>
<line x1="491.7" y1="134.6" x2="493.5" y2="134.6" stroke="#555" stroke-width="1"/>
<line x1="490.9" y1="150.3" x2="493.5" y2="150.3" stroke="#555" stroke-width="1"/>
<line x1="495.8" y1="166.3" x2="495.8" y2="169.1" stroke="#555" stroke-width="1"/>
<line x1="507.95" y1="166.3" x2="507.95" y2="168.5" stroke="#555" stroke-width="1"/>
<line x1="520.1" y1="166.3" x2="520.1" y2="169.1" stroke="#555" stroke-width="1"/>
<line x1="532.25" y1="166.3" x2="532.25" y2="168.5" stroke="#555" stroke-width="1"/>
<line x1="545" y1="166.3" x2="545" y2="169.1" stroke="#555" stroke-width="1"/>
<line x1="557.15" y1="166.3" x2="557.15" y2="168.5" stroke="#555" stroke-width="1"/>
<line x1="569.1" y1="166.3" x2="569.1" y2="169.1" stroke="#555" stroke-width="1"/>
<line x1="581.25" y1="166.3" x2="581.25" y2="168.5" stroke="#555" stroke-width="1"/>
<line x1="594" y1="166.3" x2="594" y2="169.1" stroke="#555" stroke-width="1"/>
<line x1="606.15" y1="166.3" x2="606.15" y2="168.5" stroke="#555" stroke-width="1"/>
<line x1="618.5" y1="166.3" x2="618.5" y2="169.1" stroke="#555" stroke-width="1"/>
<line x1="630.65" y1="166.3" x2="630.65" y2="168.5" stroke="#555" stroke-width="1"/>
<line x1="642.9" y1="166.3" x2="642.9" y2="169.1" stroke="#555" stroke-width="1"/>
<line x1="655.05" y1="166.3" x2="655.05" y2="168.5" stroke="#555" stroke-width="1"/>
<line x1="667" y1="166.3" x2="667" y2="169.1" stroke="#555" stroke-width="1"/>
<text x="492.89" y="181" font-family='"Liberation Sans", sans-serif' font-weight="bold" font-size="10" textLength="5.84" lengthAdjust="spacingAndGlyphs" fill="#000" stroke="#000" stroke-width="0.3">0</text>
<text x="512.8" y="181" font-family='"Liberation Sans", sans-serif' font-weight="bold" font-size="10" textLength="14.6" lengthAdjust="spacingAndGlyphs" fill="#000" stroke="#000" stroke-width="0.3">0.2</text>
<text x="541.9" y="181" font-family='"Liberation Sans", sans-serif' font-weight="bold" font-size="10" textLength="5.84" lengthAdjust="spacingAndGlyphs" fill="#000" stroke="#000" stroke-width="0.3">1</text>
<text x="566.16" y="181" font-family='"Liberation Sans", sans-serif' font-weight="bold" font-size="10" textLength="5.84" lengthAdjust="spacingAndGlyphs" fill="#000" stroke="#000" stroke-width="0.3">5</text>
<text x="588.07" y="181" font-family='"Liberation Sans", sans-serif' font-weight="bold" font-size="10" textLength="11.68" lengthAdjust="spacingAndGlyphs" fill="#000" stroke="#000" stroke-width="0.3">10</text>
<text x="612.7" y="181" font-family='"Liberation Sans", sans-serif' font-weight="bold" font-size="10" textLength="11.68" lengthAdjust="spacingAndGlyphs" fill="#000" stroke="#000" stroke-width="0.3">20</text>
<text x="637.15" y="181" font-family='"Liberation Sans", sans-serif' font-weight="bold" font-size="10" textLength="11.68" lengthAdjust="spacingAndGlyphs" fill="#000" stroke="#000" stroke-width="0.3">30</text>
<text x="661.3" y="181" font-family='"Liberation Sans", sans-serif' font-weight="bold" font-size="10" textLength="11.68" lengthAdjust="spacingAndGlyphs" fill="#000" stroke="#000" stroke-width="0.3">40</text>
<line x1="500.6" y1="26.6" x2="515.3" y2="32.7" stroke="#000000" stroke-width="2"/>
<line x1="525.25" y1="35.38" x2="539.85" y2="37.32" stroke="#000000" stroke-width="2"/>
<line x1="549.84" y1="39.91" x2="564.26" y2="45.59" stroke="#000000" stroke-width="2"/>
<line x1="573.93" y1="49.42" x2="589.17" y2="55.48" stroke="#000000" stroke-width="2"/>
<line x1="598.62" y1="59.78" x2="613.88" y2="67.62" stroke="#000000" stroke-width="2"/>
<line x1="622.91" y1="72.75" x2="638.49" y2="82.45" stroke="#000000" stroke-width="2"/>
<line x1="647.27" y1="88.03" x2="662.63" y2="97.97" stroke="#000000" stroke-width="2"/>
<line x1="500.27" y1="27.25" x2="515.63" y2="36.35" stroke="#ff0000" stroke-width="2"/>
<line x1="524.61" y1="41.59" x2="540.49" y2="50.71" stroke="#ff0000" stroke-width="2"/>
<line x1="549.32" y1="56.19" x2="564.78" y2="66.51" stroke="#ff0000" stroke-width="2"/>
<line x1="572.74" y1="73.11" x2="590.36" y2="91.09" stroke="#ff0000" stroke-width="2"/>
<line x1="597.87" y1="98.27" x2="614.63" y2="113.33" stroke="#ff0000" stroke-width="2"/>
<line x1="623.63" y1="117.66" x2="637.77" y2="120.04" stroke="#ff0000" stroke-width="2"/>
<line x1="647.84" y1="122.54" x2="662.06" y2="127.26" stroke="#ff0000" stroke-width="2"/>
<line x1="500.45" y1="26.93" x2="515.45" y2="34.47" stroke="#00ff00" stroke-width="2"/>
<line x1="525.06" y1="38.35" x2="540.04" y2="43.05" stroke="#00ff00" stroke-width="2"/>
<line x1="549.84" y1="46.49" x2="564.26" y2="52.11" stroke="#00ff00" stroke-width="2"/>
<line x1="573.86" y1="56.09" x2="589.24" y2="62.81" stroke="#00ff00" stroke-width="2"/>
<line x1="597.84" y1="68.41" x2="614.66" y2="83.79" stroke="#00ff00" stroke-width="2"/>
<line x1="622.43" y1="90.71" x2="638.97" y2="105.09" stroke="#00ff00" stroke-width="2"/>
<line x1="647.5" y1="110.92" x2="662.4" y2="118.78" stroke="#00ff00" stroke-width="2"/>
<line x1="499.78" y1="27.94" x2="516.12" y2="41.66" stroke="#0000ff" stroke-width="2"/>
<line x1="524.77" y1="47.29" x2="540.33" y2="54.91" stroke="#0000ff" stroke-width="2"/>
<line x1="548.86" y1="60.69" x2="565.24" y2="75.51" stroke="#0000ff" stroke-width="2"/>
<line x1="573" y1="82.44" x2="590.1" y2="97.56" stroke="#0000ff" stroke-width="2"/>
<line x1="598.29" y1="103.94" x2="614.21" y2="114.86" stroke="#0000ff" stroke-width="2"/>
<line x1="623.37" y1="119.63" x2="638.03" y2="125.17" stroke="#0000ff" stroke-width="2"/>
<line x1="647.96" y1="128.22" x2="661.94" y2="131.58" stroke="#0000ff" stroke-width="2"/>
<line x1="642.9" y1="102.1" x2="642.9" y2="115" stroke="#00ff00" stroke-width="1.5"/>
<line x1="639.3" y1="102.1" x2="646.5" y2="102.1" stroke="#00ff00" stroke-width="1.6"/>
<line x1="639.3" y1="115" x2="646.5" y2="115" stroke="#00ff00" stroke-width="1.6"/>
<line x1="642.9" y1="116.8" x2="642.9" y2="125" stroke="#ff0000" stroke-width="1.5"/>
<line x1="639.3" y1="116.8" x2="646.5" y2="116.8" stroke="#ff0000" stroke-width="1.6"/>
<line x1="639.3" y1="125" x2="646.5" y2="125" stroke="#ff0000" stroke-width="1.6"/>
<line x1="618.5" y1="82" x2="618.5" y2="93" stroke="#00ff00" stroke-width="1.5"/>
<line x1="614.9" y1="82" x2="622.1" y2="82" stroke="#00ff00" stroke-width="1.6"/>
<line x1="614.9" y1="93" x2="622.1" y2="93" stroke="#00ff00" stroke-width="1.6"/>
<rect x="491.8" y="20.6" width="8" height="8" fill="#000000"/>
<rect x="516.1" y="30.7" width="8" height="8" fill="#000000"/>
<rect x="541" y="34" width="8" height="8" fill="#000000"/>
<rect x="565.1" y="43.5" width="8" height="8" fill="#000000"/>
<rect x="590" y="53.4" width="8" height="8" fill="#000000"/>
<rect x="614.5" y="66" width="8" height="8" fill="#000000"/>
<rect x="638.9" y="81.2" width="8" height="8" fill="#000000"/>
<rect x="663" y="96.8" width="8" height="8" fill="#000000"/>
<circle cx="495.8" cy="24.6" r="4.5" fill="#ff0000"/>
<circle cx="520.1" cy="39" r="4.5" fill="#ff0000"/>
<circle cx="545" cy="53.3" r="4.5" fill="#ff0000"/>
<circle cx="569.1" cy="69.4" r="4.5" fill="#ff0000"/>
<circle cx="594" cy="94.8" r="4.5" fill="#ff0000"/>
<circle cx="618.5" cy="116.8" r="4.5" fill="#ff0000"/>
<circle cx="642.9" cy="120.9" r="4.5" fill="#ff0000"/>
<circle cx="667" cy="128.9" r="4.5" fill="#ff0000"/>
<polygon points="490.7,28.17 500.9,28.17 495.8,18.77" fill="#00ff00"/>
<polygon points="515,40.37 525.2,40.37 520.1,30.97" fill="#00ff00"/>
<polygon points="539.9,48.17 550.1,48.17 545,38.77" fill="#00ff00"/>
<polygon points="564,57.57 574.2,57.57 569.1,48.17" fill="#00ff00"/>
<polygon points="588.9,68.47 599.1,68.47 594,59.07" fill="#00ff00"/>
<polygon points="613.4,90.87 623.6,90.87 618.5,81.47" fill="#00ff00"/>
<polygon points="637.8,112.07 648,112.07 642.9,102.67" fill="#00ff00"/>
<polygon points="661.9,124.77 672.1,124.77 667,115.37" fill="#00ff00"/>
<polygon points="490.7,21.03 500.9,21.03 495.8,30.43" fill="#0000ff"/>
<polygon points="515,41.43 525.2,41.43 520.1,50.83" fill="#0000ff"/>
<polygon points="539.9,53.63 550.1,53.63 545,63.03" fill="#0000ff"/>
<polygon points="564,75.43 574.2,75.43 569.1,84.83" fill="#0000ff"/>
<polygon points="588.9,97.43 599.1,97.43 594,106.83" fill="#0000ff"/>
<polygon points="613.4,114.23 623.6,114.23 618.5,123.63" fill="#0000ff"/>
<polygon points="637.8,123.43 648,123.43 642.9,132.83" fill="#0000ff"/>
<polygon points="661.9,129.23 672.1,129.23 667,138.63" fill="#0000ff"/>
<line x1="497" y1="108.1" x2="501.5" y2="108.1" stroke="#000000" stroke-width="1.9"/>
<line x1="512.8" y1="108.1" x2="517.3" y2="108.1" stroke="#000000" stroke-width="1.9"/>
<rect x="503.15" y="104.1" width="8" height="8" fill="#000000"/>
<text x="519.42" y="111.2" font-family='"Liberation Sans", sans-serif' font-weight="bold" font-size="9.5" textLength="38.5" lengthAdjust="spacingAndGlyphs" fill="#000" stroke="#000" stroke-width="0.2">Raw DTX</text>
<line x1="497" y1="121" x2="501.5" y2="121" stroke="#ff0000" stroke-width="1.9"/>
<line x1="512.8" y1="121" x2="517.3" y2="121" stroke="#ff0000" stroke-width="1.9"/>
<circle cx="507.15" cy="121" r="4.5" fill="#ff0000"/>
<text x="519.43" y="124.1" font-family='"Liberation Sans", sans-serif' font-weight="bold" font-size="9.5" textLength="51.99" lengthAdjust="spacingAndGlyphs" fill="#000" stroke="#000" stroke-width="0.2">DTX/IND/PEI</text>
<line x1="497" y1="133.9" x2="501.5" y2="133.9" stroke="#00ff00" stroke-width="1.9"/>
<line x1="512.8" y1="133.9" x2="517.3" y2="133.9" stroke="#00ff00" stroke-width="1.9"/>
<polygon points="502.05,137.47 512.25,137.47 507.15,128.07" fill="#00ff00"/>
<text x="519.42" y="137" font-family='"Liberation Sans", sans-serif' font-weight="bold" font-size="9.5" textLength="82.18" lengthAdjust="spacingAndGlyphs" fill="#000" stroke="#000" stroke-width="0.2">DTX/IND/PEG-b-PEI</text>
<line x1="497" y1="146.8" x2="501.5" y2="146.8" stroke="#0000ff" stroke-width="1.9"/>
<line x1="512.8" y1="146.8" x2="517.3" y2="146.8" stroke="#0000ff" stroke-width="1.9"/>
<polygon points="502.05,143.23 512.25,143.23 507.15,152.63" fill="#0000ff"/>
<text x="519.43" y="149.9" font-family='"Liberation Sans", sans-serif' font-weight="bold" font-size="9.5" textLength="80.57" lengthAdjust="spacingAndGlyphs" fill="#000" stroke="#000" stroke-width="0.2">DTX/IND/PEG-s-PEI</text>
<line x1="309.3" y1="215.5" x2="309.3" y2="360.6" stroke="#555" stroke-width="1"/>
<line x1="308.1" y1="360" x2="482.3" y2="360" stroke="#555" stroke-width="1.1"/>
<line x1="306.7" y1="223.3" x2="309.3" y2="223.3" stroke="#555" stroke-width="1"/>
<line x1="307.5" y1="238.4" x2="309.3" y2="238.4" stroke="#555" stroke-width="1"/>
<line x1="306.7" y1="253.5" x2="309.3" y2="253.5" stroke="#555" stroke-width="1"/>
<line x1="307.5" y1="268.6" x2="309.3" y2="268.6" stroke="#555" stroke-width="1"/>
<line x1="306.7" y1="283.7" x2="309.3" y2="283.7" stroke="#555" stroke-width="1"/>
<line x1="307.5" y1="298.8" x2="309.3" y2="298.8" stroke="#555" stroke-width="1"/>
<line x1="306.7" y1="313.9" x2="309.3" y2="313.9" stroke="#555" stroke-width="1"/>
<line x1="307.5" y1="329" x2="309.3" y2="329" stroke="#555" stroke-width="1"/>
<line x1="306.7" y1="344.1" x2="309.3" y2="344.1" stroke="#555" stroke-width="1"/>
<line x1="311.7" y1="360" x2="311.7" y2="362.8" stroke="#555" stroke-width="1"/>
<line x1="323.6" y1="360" x2="323.6" y2="362.2" stroke="#555" stroke-width="1"/>
<line x1="335.5" y1="360" x2="335.5" y2="362.8" stroke="#555" stroke-width="1"/>
<line x1="347.4" y1="360" x2="347.4" y2="362.2" stroke="#555" stroke-width="1"/>
<line x1="360" y1="360" x2="360" y2="362.8" stroke="#555" stroke-width="1"/>
<line x1="371.9" y1="360" x2="371.9" y2="362.2" stroke="#555" stroke-width="1"/>
<line x1="383.6" y1="360" x2="383.6" y2="362.8" stroke="#555" stroke-width="1"/>
<line x1="395.5" y1="360" x2="395.5" y2="362.2" stroke="#555" stroke-width="1"/>
<line x1="408.1" y1="360" x2="408.1" y2="362.8" stroke="#555" stroke-width="1"/>
<line x1="420" y1="360" x2="420" y2="362.2" stroke="#555" stroke-width="1"/>
<line x1="432.1" y1="360" x2="432.1" y2="362.8" stroke="#555" stroke-width="1"/>
<line x1="444" y1="360" x2="444" y2="362.2" stroke="#555" stroke-width="1"/>
<line x1="456.3" y1="360" x2="456.3" y2="362.8" stroke="#555" stroke-width="1"/>
<line x1="468.2" y1="360" x2="468.2" y2="362.2" stroke="#555" stroke-width="1"/>
<line x1="479.9" y1="360" x2="479.9" y2="362.8" stroke="#555" stroke-width="1"/>
<text x="308.79" y="374.4" font-family='"Liberation Sans", sans-serif' font-weight="bold" font-size="10" textLength="5.84" lengthAdjust="spacingAndGlyphs" fill="#000" stroke="#000" stroke-width="0.3">0</text>
<text x="322.35" y="374.4" font-family='"Liberation Sans", sans-serif' font-weight="bold" font-size="10" textLength="26.28" lengthAdjust="spacingAndGlyphs" fill="#000" stroke="#000" stroke-width="0.3">0.013</text>
<text x="349.6" y="374.4" font-family='"Liberation Sans", sans-serif' font-weight="bold" font-size="10" textLength="20.44" lengthAdjust="spacingAndGlyphs" fill="#000" stroke="#000" stroke-width="0.3">0.04</text>
<text x="373.39" y="374.4" font-family='"Liberation Sans", sans-serif' font-weight="bold" font-size="10" textLength="20.44" lengthAdjust="spacingAndGlyphs" fill="#000" stroke="#000" stroke-width="0.3">0.12</text>
<text x="397.89" y="374.4" font-family='"Liberation Sans", sans-serif' font-weight="bold" font-size="10" textLength="20.44" lengthAdjust="spacingAndGlyphs" fill="#000" stroke="#000" stroke-width="0.3">0.37</text>
<text x="424.62" y="374.4" font-family='"Liberation Sans", sans-serif' font-weight="bold" font-size="10" textLength="14.6" lengthAdjust="spacingAndGlyphs" fill="#000" stroke="#000" stroke-width="0.3">1.1</text>
<text x="449.06" y="374.4" font-family='"Liberation Sans", sans-serif' font-weight="bold" font-size="10" textLength="14.6" lengthAdjust="spacingAndGlyphs" fill="#000" stroke="#000" stroke-width="0.3">3.3</text>
<text x="473.97" y="374.4" font-family='"Liberation Sans", sans-serif' font-weight="bold" font-size="10" textLength="11.68" lengthAdjust="spacingAndGlyphs" fill="#000" stroke="#000" stroke-width="0.3">10</text>
<text x="289.49" y="226.2" font-family='"Liberation Sans", sans-serif' font-weight="bold" font-size="10" textLength="16.64" lengthAdjust="spacingAndGlyphs" fill="#000" stroke="#000" stroke-width="0.35">100</text>
<text x="295.03" y="256.4" font-family='"Liberation Sans", sans-serif' font-weight="bold" font-size="10" textLength="11.1" lengthAdjust="spacingAndGlyphs" fill="#000" stroke="#000" stroke-width="0.35">80</text>
<text x="295.03" y="286.6" font-family='"Liberation Sans", sans-serif' font-weight="bold" font-size="10" textLength="11.1" lengthAdjust="spacingAndGlyphs" fill="#000" stroke="#000" stroke-width="0.35">60</text>
<text x="295.03" y="316.8" font-family='"Liberation Sans", sans-serif' font-weight="bold" font-size="10" textLength="11.1" lengthAdjust="spacingAndGlyphs" fill="#000" stroke="#000" stroke-width="0.35">40</text>
<text x="295.03" y="347" font-family='"Liberation Sans", sans-serif' font-weight="bold" font-size="10" textLength="11.1" lengthAdjust="spacingAndGlyphs" fill="#000" stroke="#000" stroke-width="0.35">20</text>
<line x1="316.6" y1="226.03" x2="330.6" y2="230.97" stroke="#000000" stroke-width="2"/>
<line x1="340.14" y1="235.05" x2="355.36" y2="242.75" stroke="#000000" stroke-width="2"/>
<line x1="363.55" y1="248.9" x2="380.05" y2="266.6" stroke="#000000" stroke-width="2"/>
<line x1="387.76" y1="273.52" x2="403.94" y2="285.68" stroke="#000000" stroke-width="2"/>
<line x1="413.21" y1="289.76" x2="426.99" y2="292.34" stroke="#000000" stroke-width="2"/>
<line x1="436.76" y1="295.61" x2="451.64" y2="302.99" stroke="#000000" stroke-width="2"/>
<line x1="460.31" y1="308.61" x2="475.89" y2="321.49" stroke="#000000" stroke-width="2"/>
<line x1="316.08" y1="227.1" x2="331.12" y2="236.7" stroke="#ff0000" stroke-width="2"/>
<line x1="339.79" y1="242.44" x2="355.71" y2="253.36" stroke="#ff0000" stroke-width="2"/>
<line x1="362.92" y1="260.6" x2="380.68" y2="286.8" stroke="#ff0000" stroke-width="2"/>
<line x1="388.11" y1="293.68" x2="403.59" y2="302.52" stroke="#ff0000" stroke-width="2"/>
<line x1="412.63" y1="307.65" x2="427.57" y2="316.05" stroke="#ff0000" stroke-width="2"/>
<line x1="436.9" y1="320.6" x2="451.5" y2="326.7" stroke="#ff0000" stroke-width="2"/>
<line x1="461.24" y1="330.33" x2="474.96" y2="334.87" stroke="#ff0000" stroke-width="2"/>
<line x1="316.33" y1="226.67" x2="330.87" y2="234.13" stroke="#00ff00" stroke-width="2"/>
<line x1="340.5" y1="237.93" x2="355" y2="242.07" stroke="#00ff00" stroke-width="2"/>
<line x1="363.88" y1="246.96" x2="379.72" y2="261.04" stroke="#00ff00" stroke-width="2"/>
<line x1="388.56" y1="266.06" x2="403.14" y2="270.64" stroke="#00ff00" stroke-width="2"/>
<line x1="412.96" y1="274.04" x2="427.24" y2="279.46" stroke="#00ff00" stroke-width="2"/>
<line x1="435.89" y1="284.86" x2="452.51" y2="300.44" stroke="#00ff00" stroke-width="2"/>
<line x1="460.87" y1="306.48" x2="475.33" y2="314.32" stroke="#00ff00" stroke-width="2"/>
<line x1="316.76" y1="225.51" x2="330.44" y2="228.79" stroke="#0000ff" stroke-width="2"/>
<line x1="339.57" y1="233.24" x2="355.93" y2="246.26" stroke="#0000ff" stroke-width="2"/>
<line x1="363.97" y1="252.86" x2="379.63" y2="266.14" stroke="#0000ff" stroke-width="2"/>
<line x1="387.06" y1="273.38" x2="404.64" y2="293.12" stroke="#0000ff" stroke-width="2"/>
<line x1="413.01" y1="298.72" x2="427.19" y2="303.68" stroke="#0000ff" stroke-width="2"/>
<line x1="437.06" y1="306.96" x2="451.34" y2="311.44" stroke="#0000ff" stroke-width="2"/>
<line x1="461.46" y1="313.66" x2="474.74" y2="315.34" stroke="#0000ff" stroke-width="2"/>
<rect x="307.7" y="220.3" width="8" height="8" fill="#000000"/>
<rect x="331.5" y="228.7" width="8" height="8" fill="#000000"/>
<rect x="356" y="241.1" width="8" height="8" fill="#000000"/>
<rect x="379.6" y="266.4" width="8" height="8" fill="#000000"/>
<rect x="404.1" y="284.8" width="8" height="8" fill="#000000"/>
<rect x="428.1" y="289.3" width="8" height="8" fill="#000000"/>
<rect x="452.3" y="301.3" width="8" height="8" fill="#000000"/>
<rect x="475.9" y="320.8" width="8" height="8" fill="#000000"/>
<circle cx="311.7" cy="224.3" r="4.5" fill="#ff0000"/>
<circle cx="335.5" cy="239.5" r="4.5" fill="#ff0000"/>
<circle cx="360" cy="256.3" r="4.5" fill="#ff0000"/>
<circle cx="383.6" cy="291.1" r="4.5" fill="#ff0000"/>
<circle cx="408.1" cy="305.1" r="4.5" fill="#ff0000"/>
<circle cx="432.1" cy="318.6" r="4.5" fill="#ff0000"/>
<circle cx="456.3" cy="328.7" r="4.5" fill="#ff0000"/>
<circle cx="479.9" cy="336.5" r="4.5" fill="#ff0000"/>
<polygon points="306.6,227.87 316.8,227.87 311.7,218.47" fill="#00ff00"/>
<polygon points="330.4,240.07 340.6,240.07 335.5,230.67" fill="#00ff00"/>
<polygon points="354.9,247.07 365.1,247.07 360,237.67" fill="#00ff00"/>
<polygon points="378.5,268.07 388.7,268.07 383.6,258.67" fill="#00ff00"/>
<polygon points="403,275.77 413.2,275.77 408.1,266.37" fill="#00ff00"/>
<polygon points="427,284.87 437.2,284.87 432.1,275.47" fill="#00ff00"/>
<polygon points="451.2,307.57 461.4,307.57 456.3,298.17" fill="#00ff00"/>
<polygon points="474.8,320.37 485,320.37 479.9,310.97" fill="#00ff00"/>
<polygon points="306.6,220.73 316.8,220.73 311.7,230.13" fill="#0000ff"/>
<polygon points="330.4,226.43 340.6,226.43 335.5,235.83" fill="#0000ff"/>
<polygon points="354.9,245.93 365.1,245.93 360,255.33" fill="#0000ff"/>
<polygon points="378.5,265.93 388.7,265.93 383.6,275.33" fill="#0000ff"/>
<polygon points="403,293.43 413.2,293.43 408.1,302.83" fill="#0000ff"/>
<polygon points="427,301.83 437.2,301.83 432.1,311.23" fill="#0000ff"/>
<polygon points="451.2,309.43 461.4,309.43 456.3,318.83" fill="#0000ff"/>
<polygon points="474.8,312.43 485,312.43 479.9,321.83" fill="#0000ff"/>
<line x1="311.6" y1="303.1" x2="316.1" y2="303.1" stroke="#000000" stroke-width="1.9"/>
<line x1="327.8" y1="303.1" x2="332.3" y2="303.1" stroke="#000000" stroke-width="1.9"/>
<rect x="317.95" y="299.1" width="8" height="8" fill="#000000"/>
<text x="334.72" y="306.2" font-family='"Liberation Sans", sans-serif' font-weight="bold" font-size="9.5" textLength="38.5" lengthAdjust="spacingAndGlyphs" fill="#000" stroke="#000" stroke-width="0.2">Raw DTX</text>
<line x1="311.6" y1="315.4" x2="316.1" y2="315.4" stroke="#ff0000" stroke-width="1.9"/>
<line x1="327.8" y1="315.4" x2="332.3" y2="315.4" stroke="#ff0000" stroke-width="1.9"/>
<circle cx="321.95" cy="315.4" r="4.5" fill="#ff0000"/>
<text x="334.73" y="318.5" font-family='"Liberation Sans", sans-serif' font-weight="bold" font-size="9.5" textLength="51.99" lengthAdjust="spacingAndGlyphs" fill="#000" stroke="#000" stroke-width="0.2">DTX/IND/PEI</text>
<line x1="311.6" y1="327.7" x2="316.1" y2="327.7" stroke="#00ff00" stroke-width="1.9"/>
<line x1="327.8" y1="327.7" x2="332.3" y2="327.7" stroke="#00ff00" stroke-width="1.9"/>
<polygon points="316.85,331.27 327.05,331.27 321.95,321.87" fill="#00ff00"/>
<text x="334.72" y="330.8" font-family='"Liberation Sans", sans-serif' font-weight="bold" font-size="9.5" textLength="82.18" lengthAdjust="spacingAndGlyphs" fill="#000" stroke="#000" stroke-width="0.2">DTX/IND/PEG-b-PEI</text>
<line x1="311.6" y1="340" x2="316.1" y2="340" stroke="#0000ff" stroke-width="1.9"/>
<line x1="327.8" y1="340" x2="332.3" y2="340" stroke="#0000ff" stroke-width="1.9"/>
<polygon points="316.85,336.43 327.05,336.43 321.95,345.83" fill="#0000ff"/>
<text x="334.73" y="343.1" font-family='"Liberation Sans", sans-serif' font-weight="bold" font-size="9.5" textLength="80.57" lengthAdjust="spacingAndGlyphs" fill="#000" stroke="#000" stroke-width="0.2">DTX/IND/PEG-s-PEI</text>
<line x1="490.2" y1="216.1" x2="490.2" y2="361.1" stroke="#555" stroke-width="1"/>
<line x1="489" y1="360.5" x2="664" y2="360.5" stroke="#555" stroke-width="1.1"/>
<line x1="487.6" y1="223.3" x2="490.2" y2="223.3" stroke="#555" stroke-width="1"/>
<line x1="488.4" y1="238.45" x2="490.2" y2="238.45" stroke="#555" stroke-width="1"/>
<line x1="487.6" y1="253.6" x2="490.2" y2="253.6" stroke="#555" stroke-width="1"/>
<line x1="488.4" y1="268.75" x2="490.2" y2="268.75" stroke="#555" stroke-width="1"/>
<line x1="487.6" y1="283.9" x2="490.2" y2="283.9" stroke="#555" stroke-width="1"/>
<line x1="488.4" y1="299.05" x2="490.2" y2="299.05" stroke="#555" stroke-width="1"/>
<line x1="487.6" y1="314.2" x2="490.2" y2="314.2" stroke="#555" stroke-width="1"/>
<line x1="488.4" y1="329.35" x2="490.2" y2="329.35" stroke="#555" stroke-width="1"/>
<line x1="487.6" y1="344.5" x2="490.2" y2="344.5" stroke="#555" stroke-width="1"/>
<line x1="492.3" y1="360.5" x2="492.3" y2="363.3" stroke="#555" stroke-width="1"/>
<line x1="504.35" y1="360.5" x2="504.35" y2="362.7" stroke="#555" stroke-width="1"/>
<line x1="516.4" y1="360.5" x2="516.4" y2="363.3" stroke="#555" stroke-width="1"/>
<line x1="528.45" y1="360.5" x2="528.45" y2="362.7" stroke="#555" stroke-width="1"/>
<line x1="540.5" y1="360.5" x2="540.5" y2="363.3" stroke="#555" stroke-width="1"/>
<line x1="552.55" y1="360.5" x2="552.55" y2="362.7" stroke="#555" stroke-width="1"/>
<line x1="564.5" y1="360.5" x2="564.5" y2="363.3" stroke="#555" stroke-width="1"/>
<line x1="576.55" y1="360.5" x2="576.55" y2="362.7" stroke="#555" stroke-width="1"/>
<line x1="588.7" y1="360.5" x2="588.7" y2="363.3" stroke="#555" stroke-width="1"/>
<line x1="600.75" y1="360.5" x2="600.75" y2="362.7" stroke="#555" stroke-width="1"/>
<line x1="613.3" y1="360.5" x2="613.3" y2="363.3" stroke="#555" stroke-width="1"/>
<line x1="625.35" y1="360.5" x2="625.35" y2="362.7" stroke="#555" stroke-width="1"/>
<line x1="637.4" y1="360.5" x2="637.4" y2="363.3" stroke="#555" stroke-width="1"/>
<line x1="649.45" y1="360.5" x2="649.45" y2="362.7" stroke="#555" stroke-width="1"/>
<line x1="660.5" y1="360.5" x2="660.5" y2="363.3" stroke="#555" stroke-width="1"/>
<text x="489.39" y="374.4" font-family='"Liberation Sans", sans-serif' font-weight="bold" font-size="10" textLength="5.84" lengthAdjust="spacingAndGlyphs" fill="#000" stroke="#000" stroke-width="0.3">0</text>
<text x="503.25" y="374.4" font-family='"Liberation Sans", sans-serif' font-weight="bold" font-size="10" textLength="26.28" lengthAdjust="spacingAndGlyphs" fill="#000" stroke="#000" stroke-width="0.3">0.013</text>
<text x="530.11" y="374.4" font-family='"Liberation Sans", sans-serif' font-weight="bold" font-size="10" textLength="20.44" lengthAdjust="spacingAndGlyphs" fill="#000" stroke="#000" stroke-width="0.3">0.04</text>
<text x="554.29" y="374.4" font-family='"Liberation Sans", sans-serif' font-weight="bold" font-size="10" textLength="20.44" lengthAdjust="spacingAndGlyphs" fill="#000" stroke="#000" stroke-width="0.3">0.12</text>
<text x="578.49" y="374.4" font-family='"Liberation Sans", sans-serif' font-weight="bold" font-size="10" textLength="20.44" lengthAdjust="spacingAndGlyphs" fill="#000" stroke="#000" stroke-width="0.3">0.37</text>
<text x="605.82" y="374.4" font-family='"Liberation Sans", sans-serif' font-weight="bold" font-size="10" textLength="14.6" lengthAdjust="spacingAndGlyphs" fill="#000" stroke="#000" stroke-width="0.3">1.1</text>
<text x="630.15" y="374.4" font-family='"Liberation Sans", sans-serif' font-weight="bold" font-size="10" textLength="14.6" lengthAdjust="spacingAndGlyphs" fill="#000" stroke="#000" stroke-width="0.3">3.3</text>
<text x="654.57" y="374.4" font-family='"Liberation Sans", sans-serif' font-weight="bold" font-size="10" textLength="11.68" lengthAdjust="spacingAndGlyphs" fill="#000" stroke="#000" stroke-width="0.3">10</text>
<line x1="497.13" y1="226.22" x2="511.57" y2="231.98" stroke="#000000" stroke-width="2"/>
<line x1="521.2" y1="235.91" x2="535.7" y2="241.99" stroke="#000000" stroke-width="2"/>
<line x1="545.45" y1="245.61" x2="559.55" y2="250.19" stroke="#000000" stroke-width="2"/>
<line x1="569.25" y1="253.92" x2="583.95" y2="260.48" stroke="#000000" stroke-width="2"/>
<line x1="592.78" y1="265.83" x2="609.22" y2="278.87" stroke="#000000" stroke-width="2"/>
<line x1="617.38" y1="285.32" x2="633.32" y2="297.88" stroke="#000000" stroke-width="2"/>
<line x1="641.77" y1="303.92" x2="656.13" y2="313.18" stroke="#000000" stroke-width="2"/>
<line x1="496.38" y1="227.53" x2="512.32" y2="240.17" stroke="#ff0000" stroke-width="2"/>
<line x1="521.44" y1="244.68" x2="535.46" y2="248.22" stroke="#ff0000" stroke-width="2"/>
<line x1="543.76" y1="253.55" x2="561.24" y2="275.25" stroke="#ff0000" stroke-width="2"/>
<line x1="568.69" y1="282.38" x2="584.51" y2="294.02" stroke="#ff0000" stroke-width="2"/>
<line x1="593.33" y1="299.47" x2="608.67" y2="307.33" stroke="#ff0000" stroke-width="2"/>
<line x1="617.53" y1="312.72" x2="633.17" y2="323.88" stroke="#ff0000" stroke-width="2"/>
<line x1="642.31" y1="328.6" x2="655.59" y2="333.2" stroke="#ff0000" stroke-width="2"/>
<line x1="496.88" y1="226.77" x2="511.82" y2="234.83" stroke="#00ff00" stroke-width="2"/>
<line x1="521.46" y1="238.5" x2="535.44" y2="241.8" stroke="#00ff00" stroke-width="2"/>
<line x1="545.41" y1="244.7" x2="559.59" y2="249.6" stroke="#00ff00" stroke-width="2"/>
<line x1="569.18" y1="253.56" x2="584.02" y2="260.74" stroke="#00ff00" stroke-width="2"/>
<line x1="592.78" y1="266.23" x2="609.22" y2="279.27" stroke="#00ff00" stroke-width="2"/>
<line x1="617.1" y1="286.05" x2="633.6" y2="301.45" stroke="#00ff00" stroke-width="2"/>
<line x1="642.01" y1="307.4" x2="655.89" y2="314.6" stroke="#00ff00" stroke-width="2"/>
<line x1="496.41" y1="227.49" x2="512.29" y2="239.81" stroke="#0000ff" stroke-width="2"/>
<line x1="521.34" y1="244.64" x2="535.56" y2="249.36" stroke="#0000ff" stroke-width="2"/>
<line x1="545.07" y1="253.48" x2="559.93" y2="261.52" stroke="#0000ff" stroke-width="2"/>
<line x1="568.66" y1="267.13" x2="584.54" y2="279.07" stroke="#0000ff" stroke-width="2"/>
<line x1="592.18" y1="286.06" x2="609.82" y2="305.64" stroke="#0000ff" stroke-width="2"/>
<line x1="618.22" y1="311.19" x2="632.48" y2="316.11" stroke="#0000ff" stroke-width="2"/>
<line x1="642" y1="320.23" x2="655.9" y2="327.57" stroke="#0000ff" stroke-width="2"/>
<line x1="613.3" y1="276.4" x2="613.3" y2="287.9" stroke="#000000" stroke-width="1.5"/>
<line x1="609.7" y1="276.4" x2="616.9" y2="276.4" stroke="#000000" stroke-width="1.6"/>
<line x1="609.7" y1="287.9" x2="616.9" y2="287.9" stroke="#000000" stroke-width="1.6"/>
<line x1="637.4" y1="296" x2="637.4" y2="307" stroke="#000000" stroke-width="1.5"/>
<line x1="633.8" y1="296" x2="641" y2="296" stroke="#000000" stroke-width="1.6"/>
<line x1="633.8" y1="307" x2="641" y2="307" stroke="#000000" stroke-width="1.6"/>
<line x1="660.5" y1="311" x2="660.5" y2="323" stroke="#00ff00" stroke-width="1.5"/>
<line x1="656.9" y1="311" x2="664.1" y2="311" stroke="#00ff00" stroke-width="1.6"/>
<line x1="656.9" y1="323" x2="664.1" y2="323" stroke="#00ff00" stroke-width="1.6"/>
<rect x="488.3" y="220.3" width="8" height="8" fill="#000000"/>
<rect x="512.4" y="229.9" width="8" height="8" fill="#000000"/>
<rect x="536.5" y="240" width="8" height="8" fill="#000000"/>
<rect x="560.5" y="247.8" width="8" height="8" fill="#000000"/>
<rect x="584.7" y="258.6" width="8" height="8" fill="#000000"/>
<rect x="609.3" y="278.1" width="8" height="8" fill="#000000"/>
<rect x="633.4" y="297.1" width="8" height="8" fill="#000000"/>
<rect x="656.5" y="312" width="8" height="8" fill="#000000"/>
<circle cx="492.3" cy="224.3" r="4.5" fill="#ff0000"/>
<circle cx="516.4" cy="243.4" r="4.5" fill="#ff0000"/>
<circle cx="540.5" cy="249.5" r="4.5" fill="#ff0000"/>
<circle cx="564.5" cy="279.3" r="4.5" fill="#ff0000"/>
<circle cx="588.7" cy="297.1" r="4.5" fill="#ff0000"/>
<circle cx="613.3" cy="309.7" r="4.5" fill="#ff0000"/>
<circle cx="637.4" cy="326.9" r="4.5" fill="#ff0000"/>
<circle cx="660.5" cy="334.9" r="4.5" fill="#ff0000"/>
<polygon points="487.2,227.87 497.4,227.87 492.3,218.47" fill="#00ff00"/>
<polygon points="511.3,240.87 521.5,240.87 516.4,231.47" fill="#00ff00"/>
<polygon points="535.4,246.57 545.6,246.57 540.5,237.17" fill="#00ff00"/>
<polygon points="559.4,254.87 569.6,254.87 564.5,245.47" fill="#00ff00"/>
<polygon points="583.6,266.57 593.8,266.57 588.7,257.17" fill="#00ff00"/>
<polygon points="608.2,286.07 618.4,286.07 613.3,276.67" fill="#00ff00"/>
<polygon points="632.3,308.57 642.5,308.57 637.4,299.17" fill="#00ff00"/>
<polygon points="655.4,320.57 665.6,320.57 660.5,311.17" fill="#00ff00"/>
<polygon points="487.2,220.73 497.4,220.73 492.3,230.13" fill="#0000ff"/>
<polygon points="511.3,239.43 521.5,239.43 516.4,248.83" fill="#0000ff"/>
<polygon points="535.4,247.43 545.6,247.43 540.5,256.83" fill="#0000ff"/>
<polygon points="559.4,260.43 569.6,260.43 564.5,269.83" fill="#0000ff"/>
<polygon points="583.6,278.63 593.8,278.63 588.7,288.03" fill="#0000ff"/>
<polygon points="608.2,305.93 618.4,305.93 613.3,315.33" fill="#0000ff"/>
<polygon points="632.3,314.23 642.5,314.23 637.4,323.63" fill="#0000ff"/>
<polygon points="655.4,326.43 665.6,326.43 660.5,335.83" fill="#0000ff"/>
<line x1="492.9" y1="302.9" x2="497.4" y2="302.9" stroke="#000000" stroke-width="1.9"/>
<line x1="509.8" y1="302.9" x2="514.3" y2="302.9" stroke="#000000" stroke-width="1.9"/>
<rect x="499.6" y="298.9" width="8" height="8" fill="#000000"/>
<text x="516.02" y="306" font-family='"Liberation Sans", sans-serif' font-weight="bold" font-size="9.5" textLength="38.5" lengthAdjust="spacingAndGlyphs" fill="#000" stroke="#000" stroke-width="0.2">Raw DTX</text>
<line x1="492.9" y1="315.6" x2="497.4" y2="315.6" stroke="#ff0000" stroke-width="1.9"/>
<line x1="509.8" y1="315.6" x2="514.3" y2="315.6" stroke="#ff0000" stroke-width="1.9"/>
<circle cx="503.6" cy="315.6" r="4.5" fill="#ff0000"/>
<text x="516.03" y="318.7" font-family='"Liberation Sans", sans-serif' font-weight="bold" font-size="9.5" textLength="51.99" lengthAdjust="spacingAndGlyphs" fill="#000" stroke="#000" stroke-width="0.2">DTX/IND/PEI</text>
<line x1="492.9" y1="328.3" x2="497.4" y2="328.3" stroke="#00ff00" stroke-width="1.9"/>
<line x1="509.8" y1="328.3" x2="514.3" y2="328.3" stroke="#00ff00" stroke-width="1.9"/>
<polygon points="498.5,331.87 508.7,331.87 503.6,322.47" fill="#00ff00"/>
<text x="516.02" y="331.4" font-family='"Liberation Sans", sans-serif' font-weight="bold" font-size="9.5" textLength="82.18" lengthAdjust="spacingAndGlyphs" fill="#000" stroke="#000" stroke-width="0.2">DTX/IND/PEG-b-PEI</text>
<line x1="492.9" y1="341" x2="497.4" y2="341" stroke="#0000ff" stroke-width="1.9"/>
<line x1="509.8" y1="341" x2="514.3" y2="341" stroke="#0000ff" stroke-width="1.9"/>
<polygon points="498.5,337.43 508.7,337.43 503.6,346.83" fill="#0000ff"/>
<text x="516.03" y="344.1" font-family='"Liberation Sans", sans-serif' font-weight="bold" font-size="9.5" textLength="80.57" lengthAdjust="spacingAndGlyphs" fill="#000" stroke="#000" stroke-width="0.2">DTX/IND/PEG-s-PEI</text>
<text transform="rotate(-90)" x="-143.76" y="284.9" font-family='"Liberation Sans", sans-serif' font-weight="bold" font-size="10.6" textLength="88.02" lengthAdjust="spacingAndGlyphs" fill="#000" stroke="#000" stroke-width="0.15">Cell viability (%)</text>
<text transform="rotate(-90)" x="-332.67" y="285.6" font-family='"Liberation Sans", sans-serif' font-weight="bold" font-size="10.6" textLength="89.74" lengthAdjust="spacingAndGlyphs" fill="#000" stroke="#000" stroke-width="0.15">Cell viability (%)</text>
<text x="345.64" y="187.8" font-family='"Liberation Sans", sans-serif' font-weight="bold" font-size="9.7" textLength="90.17" lengthAdjust="spacingAndGlyphs" fill="#000" stroke="#000" stroke-width="0.1">DTX concentration</text>
<text x="439.68" y="188.6" font-family='"Liberation Sans", sans-serif' font-weight="normal" font-size="11.9" textLength="4.52" lengthAdjust="spacingAndGlyphs" fill="#000">(</text>
<text x="443.74" y="187.8" font-family='"Liberation Sans", sans-serif' font-weight="normal" font-size="10.5" textLength="5.89" lengthAdjust="spacingAndGlyphs" fill="#000">μ</text>
<text x="448.97" y="187.8" font-family='"Liberation Sans", sans-serif' font-weight="bold" font-size="9.7" textLength="25.64" lengthAdjust="spacingAndGlyphs" fill="#000" stroke="#000" stroke-width="0.1">g/mL</text>
<text x="475.43" y="188.6" font-family='"Liberation Sans", sans-serif' font-weight="normal" font-size="11.9" textLength="4.52" lengthAdjust="spacingAndGlyphs" fill="#000">)</text>
<text x="525.02" y="196.3" font-family='"Liberation Sans", sans-serif' font-weight="bold" font-size="9.7" textLength="92.5" lengthAdjust="spacingAndGlyphs" fill="#000" stroke="#000" stroke-width="0.1">DTX concentration</text>
<text x="620.28" y="197.1" font-family='"Liberation Sans", sans-serif' font-weight="normal" font-size="11.9" textLength="4.52" lengthAdjust="spacingAndGlyphs" fill="#000">(</text>
<text x="624.41" y="196.3" font-family='"Liberation Sans", sans-serif' font-weight="normal" font-size="10.5" textLength="5.24" lengthAdjust="spacingAndGlyphs" fill="#000">μ</text>
<text x="629.09" y="196.3" font-family='"Liberation Sans", sans-serif' font-weight="bold" font-size="9.7" textLength="24.71" lengthAdjust="spacingAndGlyphs" fill="#000" stroke="#000" stroke-width="0.1">g/mL</text>
<text x="654.13" y="197.1" font-family='"Liberation Sans", sans-serif' font-weight="normal" font-size="11.9" textLength="4.52" lengthAdjust="spacingAndGlyphs" fill="#000">)</text>
<text x="338.23" y="386.9" font-family='"Liberation Sans", sans-serif' font-weight="bold" font-size="9.7" textLength="91.38" lengthAdjust="spacingAndGlyphs" fill="#000" stroke="#000" stroke-width="0.1">DTX concentration</text>
<text x="432.98" y="387.7" font-family='"Liberation Sans", sans-serif' font-weight="normal" font-size="11.9" textLength="4.52" lengthAdjust="spacingAndGlyphs" fill="#000">(</text>
<text x="437.21" y="386.9" font-family='"Liberation Sans", sans-serif' font-weight="normal" font-size="10.5" textLength="4.32" lengthAdjust="spacingAndGlyphs" fill="#000">μ</text>
<text x="441.08" y="386.9" font-family='"Liberation Sans", sans-serif' font-weight="bold" font-size="9.7" textLength="25.02" lengthAdjust="spacingAndGlyphs" fill="#000" stroke="#000" stroke-width="0.1">g/mL</text>
<text x="466.23" y="387.7" font-family='"Liberation Sans", sans-serif' font-weight="normal" font-size="11.9" textLength="4.52" lengthAdjust="spacingAndGlyphs" fill="#000">)</text>
<text x="519.03" y="385.8" font-family='"Liberation Sans", sans-serif' font-weight="bold" font-size="9.7" textLength="91.08" lengthAdjust="spacingAndGlyphs" fill="#000" stroke="#000" stroke-width="0.1">DTX concentration</text>
<text x="613.48" y="386.6" font-family='"Liberation Sans", sans-serif' font-weight="normal" font-size="11.9" textLength="4.52" lengthAdjust="spacingAndGlyphs" fill="#000">(</text>
<text x="617.71" y="385.8" font-family='"Liberation Sans", sans-serif' font-weight="normal" font-size="10.5" textLength="4.32" lengthAdjust="spacingAndGlyphs" fill="#000">μ</text>
<text x="621.57" y="385.8" font-family='"Liberation Sans", sans-serif' font-weight="bold" font-size="9.7" textLength="25.64" lengthAdjust="spacingAndGlyphs" fill="#000" stroke="#000" stroke-width="0.1">g/mL</text>
<text x="647.33" y="386.6" font-family='"Liberation Sans", sans-serif' font-weight="normal" font-size="11.9" textLength="4.52" lengthAdjust="spacingAndGlyphs" fill="#000">)</text>
<text x="374.04" y="29" font-family='"Liberation Serif", serif' font-weight="bold" font-size="10.8" textLength="107.81" lengthAdjust="spacingAndGlyphs" fill="#000">B16F10(pH7.4 medium)</text>
<text x="538.74" y="26.1" font-family='"Liberation Serif", serif' font-weight="bold" font-size="10.8" textLength="111.21" lengthAdjust="spacingAndGlyphs" fill="#000">B16F10(pH 6.5 medium)</text>
<text x="360.44" y="221.6" font-family='"Liberation Serif", serif' font-weight="bold" font-size="10.8" textLength="105.18" lengthAdjust="spacingAndGlyphs" fill="#000">HepG2(pH7.4 medium)</text>
<text x="541.74" y="222.5" font-family='"Liberation Serif", serif' font-weight="bold" font-size="10.8" textLength="104.48" lengthAdjust="spacingAndGlyphs" fill="#000">HepG2(pH6.5 medium)</text>
</g>
</svg>
</body></html>
